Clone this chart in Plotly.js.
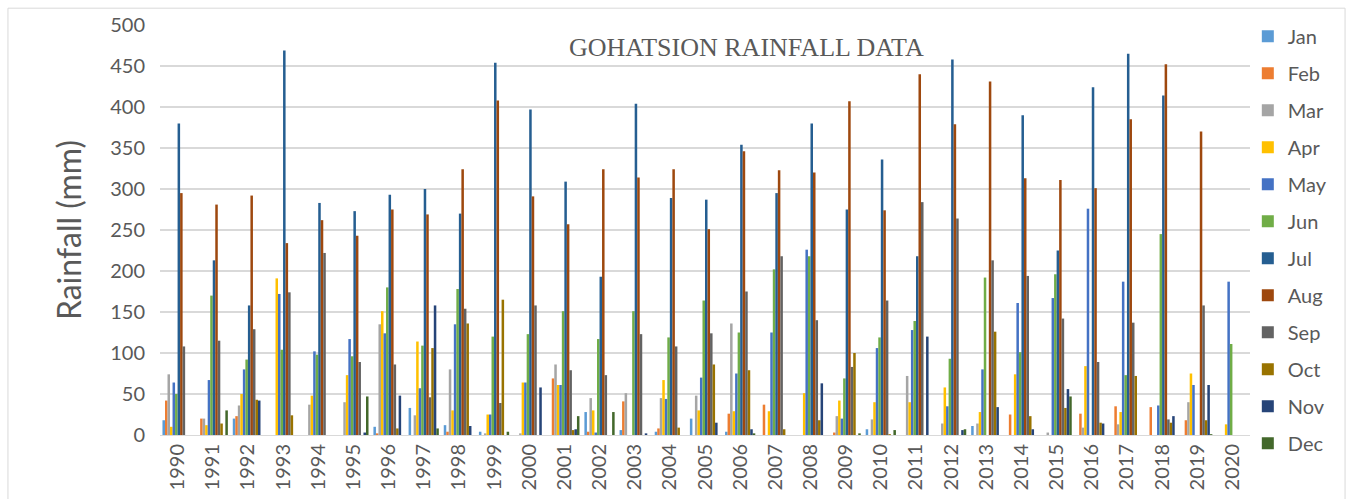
<!DOCTYPE html>
<html>
<head>
<meta charset="utf-8">
<script src="https://cdn.plot.ly/plotly-3.0.1.min.js"></script>
<style>html,body{margin:0;padding:0;background:#fff;} #chart{width:1355px;height:499px;}</style>
</head>
<body>
<div id="chart"></div>
<script>
const years = ["1990","1991","1992","1993","1994","1995","1996","1997","1998","1999","2000","2001","2002","2003","2004","2005","2006","2007","2008","2009","2010","2011","2012","2013","2014","2015","2016","2017","2018","2019","2020"];
const months = ["Jan","Feb","Mar","Apr","May","Jun","Jul","Aug","Sep","Oct","Nov","Dec"];
const monthColors = ["#5B9BD5","#ED7D31","#A5A5A5","#FFC000","#4472C4","#70AD47","#255E91","#9E480E","#636363","#997300","#264478","#43682B"];

// Monthly rainfall (mm), one array per month, values for 1990..2020
const jan = [18,0,20,0,0,0,10,33,12,4,0,0,28,6,4,20,4,0,0,0,7,0,0,11,0,0,0,0,0,0,0];
const feb = [42,20,23,0,0,0,2,0,4,0,0,69,4,41,8,0,26,37,0,3,0,0,0,0,25,0,26,35,34,18,0];
const mar = [74,20,36,0,37,40,135,24,80,2,2,86,45,51,45,48,136,0,0,23,19,72,14,14,0,3,9,13,0,40,0];
const apr = [10,12,50,191,48,73,151,114,30,25,64,61,30,0,67,30,29,29,51,42,40,40,58,28,74,0,84,28,0,75,13];
const may = [64,67,80,172,102,117,124,57,135,25,64,61,3,0,44,70,75,125,226,20,106,128,35,80,161,167,276,187,36,61,187];
const jun = [50,170,92,104,98,96,180,109,178,120,123,151,117,151,119,164,125,202,218,69,119,139,93,192,101,196,0,73,245,0,111];
const jul = [380,213,158,469,283,273,293,300,270,454,397,309,193,404,289,287,354,295,380,275,336,218,458,0,390,225,424,465,414,0,0];
const aug = [295,281,292,234,262,243,275,269,324,408,291,257,324,314,324,251,346,323,320,407,274,440,379,431,313,311,301,385,452,370,0];
const sep = [108,115,129,174,222,89,86,46,154,39,158,79,73,123,108,124,175,218,140,83,164,284,264,213,194,142,89,137,19,158,0];
const oct = [0,14,43,24,0,0,8,106,136,165,0,6,0,0,9,86,79,7,18,100,1,0,0,126,23,33,15,72,15,18,0];
const nov = [0,0,42,0,0,3,48,158,11,0,58,7,0,2,0,15,7,0,63,0,0,120,6,34,7,56,14,0,23,61,0];
const dec = [0,30,0,0,0,47,0,8,0,4,0,23,28,0,0,0,2,0,0,2,6,0,7,0,0,47,0,0,0,1,0];

const series = [jan,feb,mar,apr,may,jun,jul,aug,sep,oct,nov,dec];

const traces = months.map((m,i)=>({
  type:'bar', name:m, x:years, y:series[i],
  marker:{color:monthColors[i]},
  legendgroup:m
}));

const layout = {
  width:1355, height:499,
  margin:{l:160, r:105, t:25, b:64},
  paper_bgcolor:'#ffffff', plot_bgcolor:'#ffffff',
  barmode:'group', bargap:0.14, bargroupgap:0,
  font:{family:'Lato, "Open Sans", sans-serif', color:'#595959'},
  xaxis:{type:'category', tickangle:-90, tickfont:{size:20, color:'#595959'},
         showgrid:false, showline:true, linecolor:'#D9D9D9', linewidth:1, ticks:'', ticklen:0},
  yaxis:{range:[0,500], dtick:50, tickfont:{size:20, color:'#595959'}, ticklabelstandoff:14,
         showgrid:true, gridcolor:'#D9D9D9', gridwidth:2, zeroline:false, showline:false,
         title:{text:'Rainfall (mm)', font:{size:32, color:'#595959'}, standoff:18}},
  legend:{x:0.998, y:1.02, xanchor:'left', yanchor:'top', font:{size:20, color:'#595959'},
          tracegroupgap:8, itemwidth:30, bgcolor:'rgba(0,0,0,0)', maxheight:499},
  annotations:[{text:'GOHATSION RAINFALL DATA', xref:'paper', yref:'paper', x:0.538, y:0.946,
     xanchor:'center', yanchor:'middle', showarrow:false,
     font:{family:'"Liberation Serif", "Times New Roman", serif', size:26, color:'#595959'}}],
  shapes:[{type:'rect', xref:'paper', yref:'paper', x0:-0.1395, x1:1.0872, y0:-0.2, y1:1.041,
     line:{color:'#D9D9D9', width:1}, fillcolor:'rgba(0,0,0,0)', layer:'below'}]
};

Plotly.newPlot('chart', traces, layout, {displayModeBar:false, staticPlot:true});
</script>
</body>
</html>
